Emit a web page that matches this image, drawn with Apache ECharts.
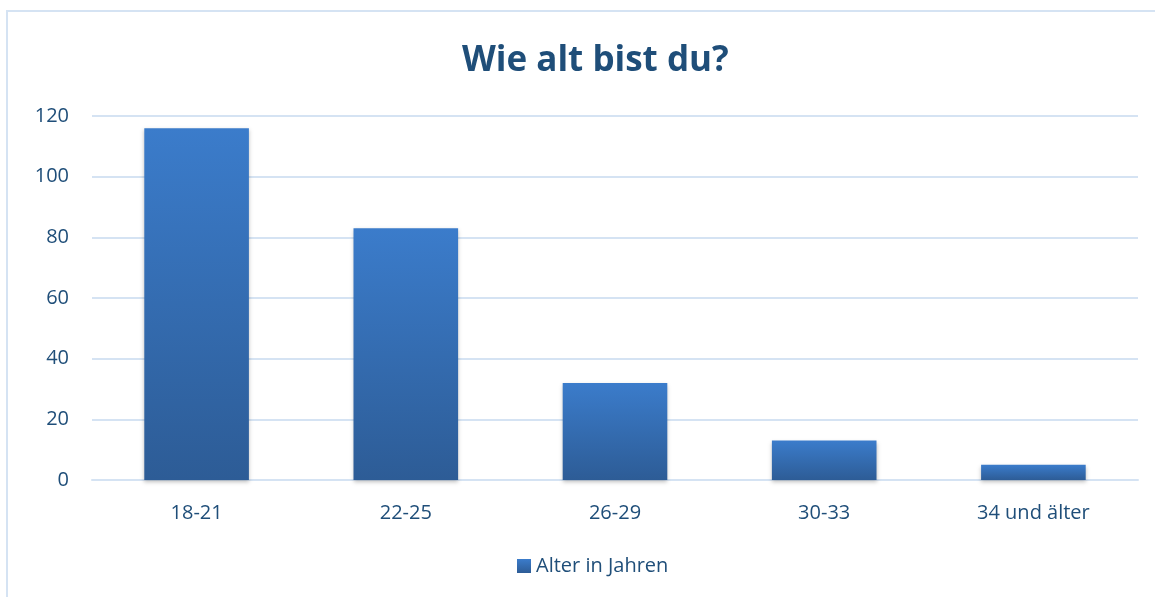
<!DOCTYPE html>
<html>
<head>
<meta charset="utf-8">
<script src="https://cdn.jsdelivr.net/npm/echarts@6/dist/echarts.min.js"></script>
<style>
  html, body { margin: 0; padding: 0; background: #fff; }
  #chart { width: 1155px; height: 597px; }
</style>
</head>
<body>
<div id="chart"></div>
<script>
// Altersgruppen und Anzahl
var categories = ['18-21', '22-25', '26-29', '30-33', '34 und älter']
var values = [116, 83, 32, 13, 5]
var seriesName = 'Alter in Jahren'
var titleText = 'Wie alt bist du?'

var textColor = '#1f4e79'
var barGradient = new echarts.graphic.LinearGradient(0, 0, 0, 1, [
    { offset: 0, color: '#3b7ccb' },
    { offset: 1, color: '#2d5c96' },
])

var chart = echarts.init(document.getElementById('chart'))
var option = {
    animation: false,
    title: {
        text: titleText,
        left: 457,
        top: 39,
        textStyle: {
            color: textColor,
            fontSize: 35,
            fontWeight: 'bold',
            fontFamily: 'Open Sans',
        },
    },
    graphic: [
        {
            type: 'rect',
            shape: { x: 7, y: 11, width: 1200, height: 700 },
            style: { fill: 'none', stroke: '#d5e3f3', lineWidth: 2 },
            silent: true,
        },
    ],
    legend: {
        bottom: 16,
        left: 512,
        itemWidth: 14,
        itemHeight: 14,
        itemGap: 6,
        icon: 'rect',
        textStyle: { color: textColor, fontSize: 20, fontFamily: 'Open Sans' },
        data: [seriesName],
    },
    grid: {
        left: 92,
        right: 17,
        top: 116,
        bottom: 117,
        containLabel: false,
    },
    xAxis: {
        type: 'category',
        data: categories,
        axisLine: { lineStyle: { color: '#d5e3f3', width: 2 } },
        axisTick: { show: false },
        axisLabel: { color: textColor, fontSize: 20, margin: 23, fontFamily: 'Open Sans' },
    },
    yAxis: {
        type: 'value',
        min: 0,
        max: 120,
        interval: 20,
        axisLine: { show: false },
        axisTick: { show: false },
        axisLabel: { color: textColor, fontSize: 20, margin: 23, fontFamily: 'Open Sans' },
        splitLine: { lineStyle: { color: '#d5e3f3', width: 2 } },
    },
    series: [
        {
            name: seriesName,
            type: 'bar',
            barWidth: '50%',
            data: values,
            itemStyle: {
                color: barGradient,
                shadowColor: 'rgba(0,0,0,0.25)',
                shadowBlur: 4,
                shadowOffsetY: 2,
            },
        },
    ],
}
option && chart.setOption(option)
</script>
</body>
</html>
